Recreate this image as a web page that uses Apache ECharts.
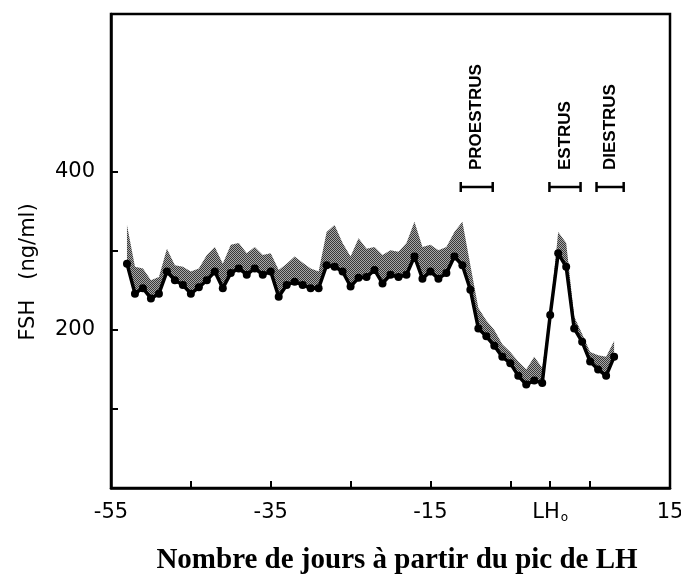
<!DOCTYPE html>
<html>
<head>
<meta charset="utf-8">
<script src="https://cdn.jsdelivr.net/npm/echarts@6/dist/echarts.min.js"></script>
<style>html,body{margin:0;padding:0;background:#fff;}#c{width:681px;height:576px;}</style>
</head>
<body>
<div id="c"></div>
<script>
// ---- data ----
var days = [-53,-52,-51,-50,-49,-48,-47,-46,-45,-44,-43,-42,-41,-40,-39,-38,-37,-36,-35,-34,-33,-32,-31,-30,-29,-28,-27,-26,-25,-24,-23,-22,-21,-20,-19,-18,-17,-16,-15,-14,-13,-12,-11,-10,-9,-8,-7,-6,-5,-4,-3,-2,-1,0,1,2,3,4,5,6,7,8];
var fshMean = [284,246,253,240,246,274,263,257,246,254,263,274,253,272,278,270,278,270,274,242,257,261,257,253,253,282,280,274,255,266,267,276,259,270,267,270,293,265,274,265,272,293,282,251,202,192,180,166,158,142,131,136,133,219,297,280,202,185,160,150,142,166];
var fshUpper = [333,280,278,263,267,303,282,280,274,278,295,305,284,308,310,297,305,295,297,276,284,293,285,278,274,324,333,310,293,316,303,305,295,301,299,310,337,305,308,301,305,324,337,282,228,212,200,182,172,160,150,166,152,224,324,310,217,195,172,168,166,186];
var phaseNames = ['PROESTRUS','ESTRUS','DIESTRUS'];
var phaseStart = [-11.2,-0.1,5.8];
var phaseEnd = [-7.2,3.8,9.2];
var phaseLevel = [381,381,381];
var xTickValues = [-45,-35,-25,-15,-5,0,5];
var xLabelValues = [-55,-35,-15,0,15];
var yTickValues = [100,200,300,400];
var yLabelValues = [200,400];

// ---- build series data ----
var meanData = days.map(function(d,i){return [d, fshMean[i]];});
var upperData = days.map(function(d,i){return [d, fshUpper[i]];});
var phaseData = phaseNames.map(function(n,i){return [phaseStart[i], phaseEnd[i], phaseLevel[i]];});

// stipple pattern for the band
var pc = document.createElement('canvas');
pc.width = 2; pc.height = 2;
var px = pc.getContext('2d');
px.fillStyle = '#a8a8a8'; px.fillRect(0,0,2,2);
px.fillStyle = '#383838'; px.fillRect(0,0,1,1); px.fillRect(1,1,1,1);

var chart = echarts.init(document.getElementById('c'), null, {renderer:'canvas'});
var font = 'DejaVu Sans';
chart.setOption({
  animation:false,
  backgroundColor:'#fff',
  grid:{left:111,right:11,top:14,bottom:88,show:true,borderColor:'#000',borderWidth:2.5,backgroundColor:'transparent',outerBoundsMode:'none',containLabel:false},
  xAxis:{
    type:'value',min:-55,max:15,
    name:'Nombre de jours à partir du pic de LH',
    nameLocation:'middle',nameGap:58,
    nameTextStyle:{fontFamily:'Liberation Serif',fontWeight:'bold',fontSize:29,color:'#000',padding:[0,0,0,13]},
    axisLine:{show:true,onZero:false,lineStyle:{color:'#000',width:2.5}},
    axisTick:{show:true,inside:true,length:7,customValues:xTickValues,lineStyle:{color:'#000',width:2}},
    splitLine:{show:false},
    axisLabel:{customValues:xLabelValues,margin:14,color:'#000',fontFamily:font,fontSize:21,
      formatter:function(v){return v===0?'{a|LH}{b|o}':String(v);},
      rich:{a:{fontFamily:font,fontSize:21,color:'#000'},b:{fontFamily:font,fontSize:12,color:'#000',padding:[10,0,0,1]}}}
  },
  yAxis:{
    type:'value',min:0,max:600,interval:100,
    axisLine:{show:true,onZero:false,lineStyle:{color:'#000',width:2.5}},
    axisTick:{show:true,inside:true,length:7,customValues:yTickValues,lineStyle:{color:'#000',width:2}},
    splitLine:{show:false},
    axisLabel:{customValues:yLabelValues,margin:16,color:'#000',fontFamily:font,fontSize:21}
  },
  graphic:[{type:'text',x:29,y:272,rotation:Math.PI/2,
    style:{text:'FSH   (ng/ml)',x:0,y:0,align:'center',verticalAlign:'middle',fontFamily:font,fontSize:21,fill:'#000'}}],
  series:[
    {type:'custom',data:meanData,z:2,silent:true,
      renderItem:function(params,api){
        if(params.dataIndex!==0) return null;
        var pts = [];
        for(var i=0;i<upperData.length;i++) pts.push(api.coord(upperData[i]));
        for(var j=meanData.length-1;j>=0;j--) pts.push(api.coord(meanData[j]));
        return {type:'polygon',shape:{points:pts},style:{fill:{image:pc,repeat:'repeat'}}};
      }},
    {type:'line',data:meanData,symbol:'circle',symbolSize:8,itemStyle:{color:'#000'},
      lineStyle:{color:'#000',width:3.5},z:3},
    {type:'custom',data:phaseData,z:4,
      renderItem:function(params,api){
        var a = api.coord([api.value(0), api.value(2)]);
        var b = api.coord([api.value(1), api.value(2)]);
        var name = phaseNames[params.dataIndex];
        var cx = (a[0]+b[0])/2;
        var ls = {stroke:'#000',lineWidth:2.5};
        return {type:'group',children:[
          {type:'line',shape:{x1:a[0],y1:a[1],x2:b[0],y2:b[1]},style:ls},
          {type:'line',shape:{x1:a[0],y1:a[1]-5,x2:a[0],y2:a[1]+5},style:ls},
          {type:'line',shape:{x1:b[0],y1:b[1]-5,x2:b[0],y2:b[1]+5},style:ls},
          {type:'text',x:cx,y:a[1]-17,rotation:Math.PI/2,
            style:{text:name,x:0,y:0,align:'left',verticalAlign:'middle',
              fontFamily:'Liberation Sans',fontWeight:'bold',fontSize:17,fill:'#000'}}
        ]};
      }}
  ]
});
</script>
</body>
</html>
